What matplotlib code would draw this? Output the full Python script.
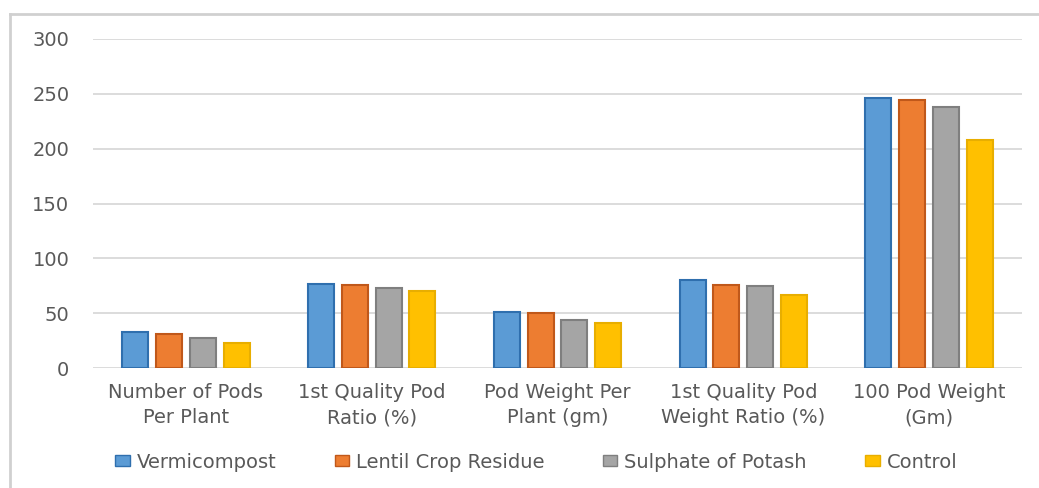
import numpy as np
import matplotlib.pyplot as plt
from matplotlib.patches import Patch
from matplotlib.lines import Line2D

categories = [
    "Number of Pods\nPer Plant",
    "1st Quality Pod\nRatio (%)",
    "Pod Weight Per\nPlant (gm)",
    "1st Quality Pod\nWeight Ratio (%)",
    "100 Pod Weight\n(Gm)",
]
series_names = ["Vermicompost", "Lentil Crop Residue", "Sulphate of Potash", "Control"]
vermicompost = [33, 77, 51, 80, 246]
lentil_residue = [31, 76, 50, 76, 244]
sulphate_potash = [27, 73, 44, 75, 238]
control = [23, 70, 41, 67, 208]
y_ticks = [0, 50, 100, 150, 200, 250, 300]

series = [vermicompost, lentil_residue, sulphate_potash, control]
fills = ["#5B9BD5", "#ED7D31", "#A5A5A5", "#FFC000"]
edges = ["#2F6FAE", "#C0581A", "#7F7F7F", "#E8AE00"]
text_color = "#595959"

plt.rcParams['font.family'] = ['DejaVu Sans']
fs = 14

W, H = 1039, 488
fig = plt.figure(figsize=(W / 100, H / 100), dpi=100)
ax = fig.add_axes([93 / W, 1 - 368 / H, (1022 - 93) / W, (368 - 39) / H])

x = np.arange(len(categories))
pitch = 0.182
width = 0.14
for i, (vals, fc, ec) in enumerate(zip(series, fills, edges)):
    ax.bar(x + (i - 1.5) * pitch, vals, width=width, color=fc,
           edgecolor=ec, linewidth=1.5, zorder=3)

ax.set_xlim(-0.5, len(categories) - 0.5)
ax.set_ylim(0, 300)
ax.set_yticks(y_ticks)
ax.yaxis.grid(True, color="#D9D9D9", linewidth=1.3, zorder=0)
ax.set_axisbelow(True)
for s in ax.spines.values():
    s.set_visible(False)
ax.tick_params(axis='y', length=0, pad=17, labelsize=fs, labelcolor=text_color)
ax.tick_params(axis='x', length=0, pad=11, labelsize=fs, labelcolor=text_color)
ax.set_xticks(x)
ax.set_xticklabels(categories, linespacing=1.4)

handles = [Patch(facecolor=fc, edgecolor=ec, linewidth=1.0) for fc, ec in zip(fills, edges)]
leg = fig.legend(handles, series_names, loc='center', bbox_to_anchor=(0.516, 1 - 462 / H),
                 ncol=4, frameon=False, fontsize=fs, handlelength=0.75, handleheight=0.5,
                 handletextpad=0.35, columnspacing=3.0)
for t in leg.get_texts():
    t.set_color(text_color)

# outer chart frame (top and left edges)
fig.add_artist(Line2D([10 / W, 1.0], [1 - 14 / H, 1 - 14 / H], color="#D0D0D0", linewidth=2))
fig.add_artist(Line2D([10 / W, 10 / W], [1 - 14 / H, 0.0], color="#D0D0D0", linewidth=2))

fig.savefig("out.png", dpi=100)
